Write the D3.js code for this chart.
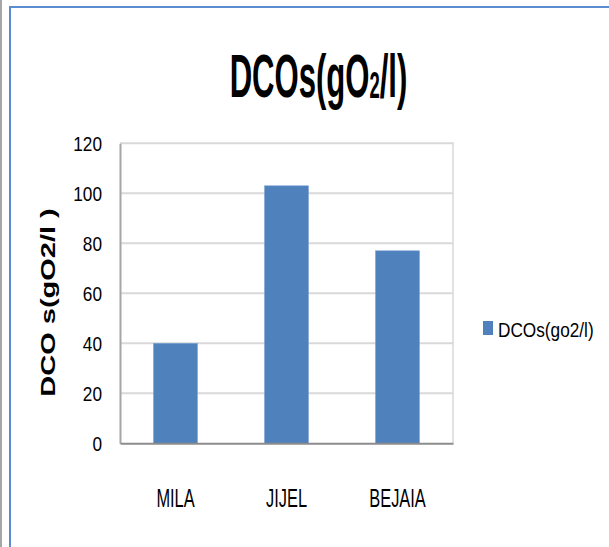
<!DOCTYPE html>
<html><head><meta charset="utf-8">
<script src="https://cdn.jsdelivr.net/npm/d3@7/dist/d3.min.js"></script>
<style>
html,body{margin:0;padding:0;background:#fff;}
svg{display:block;}
</style></head>
<body>
<svg id="chart" width="609" height="547"></svg>
<script>
const categories = ["MILA", "JIJEL", "BEJAIA"];
const values = [40, 103, 77];
const yTicks = [0, 20, 40, 60, 80, 100, 120];
const seriesName = "DCOs(go2/l)";
const yLabel = "DCO s(gO2/l )";

const sans = "'Liberation Sans', Arial, sans-serif";
const NX = 0.82; // horizontal condensing factor
const svg = d3.select("#chart");

// outer frame
svg.append("line").attr("x1",1).attr("x2",1).attr("y1",0).attr("y2",547)
  .attr("stroke","#a6a6a6").attr("stroke-width",2);
svg.append("rect").attr("x",10).attr("y",7).attr("width",620).attr("height",560)
  .attr("fill","none").attr("stroke","#5b8bd0").attr("stroke-width",2);

const L=120, R=453, T=143.3, B=443.3;
const x = d3.scaleBand().domain(categories).range([L,R]).paddingInner(0.604).paddingOuter(0.302);
const y = d3.scaleLinear().domain([0,120]).range([B,T]);

// gridlines
svg.append("g").selectAll("line").data(yTicks.filter(d=>d>0)).join("line")
  .attr("x1",L).attr("x2",R).attr("y1",d=>y(d)).attr("y2",d=>y(d))
  .attr("stroke","#d9d9d9").attr("stroke-width",2);
// right border
svg.append("line").attr("x1",R).attr("x2",R).attr("y1",T-1).attr("y2",B)
  .attr("stroke","#d9d9d9").attr("stroke-width",1.5);

// bars
svg.append("g").selectAll("rect").data(values).join("rect")
  .attr("x",(d,i)=>x(categories[i])).attr("width",x.bandwidth())
  .attr("y",d=>y(d)).attr("height",d=>B-y(d))
  .attr("fill","#4f81bd").attr("stroke","#7ea3d6").attr("stroke-width",0.6);

// y axis
const ya = svg.append("g").attr("transform",`translate(${L},0)`)
  .call(d3.axisLeft(y).tickValues(yTicks).tickSize(0));
ya.select(".domain").attr("stroke","#a6a6a6").attr("stroke-width",2);
ya.selectAll("text").attr("font-family",sans).attr("font-size",21).attr("fill","#000")
  .attr("x",-18/NX).attr("transform",`scale(${NX},1)`);

// x axis
const xa = svg.append("g").attr("transform",`translate(0,${B})`)
  .call(d3.axisBottom(x).tickSize(0));
xa.select(".domain").attr("stroke","#8c8c8c").attr("stroke-width",2);
xa.selectAll("text").attr("font-family",sans).attr("font-size",20).attr("fill","#000")
  .attr("y",48).attr("dy",0).attr("transform",`scale(${NX},1.33)`);

// title
const title = svg.append("text").attr("text-anchor","middle")
  .attr("transform","translate(318.5,96.5) scale(0.84,1.66)")
  .attr("font-family",sans).attr("font-weight","bold").attr("font-size",37).attr("fill","#000");
title.append("tspan").text("DCOs(gO");
title.append("tspan").text("2").attr("font-size",22).attr("dy",1);
title.append("tspan").text("/l)").attr("dy",-1);

// y label
svg.append("text").attr("text-anchor","middle")
  .attr("transform","translate(54.5,302.5) rotate(-90) scale(1,0.67)")
  .attr("font-family",sans).attr("font-weight","bold")
  .attr("font-size",29).attr("fill","#000").text(yLabel);

// legend
const lg = svg.append("g");
lg.append("rect").attr("x",483).attr("y",321).attr("width",10).attr("height",14).attr("fill","#4f81bd");
lg.append("text").attr("transform",`translate(498,336.5) scale(${NX},1)`)
  .attr("font-family",sans).attr("font-size",21).attr("fill","#000").text(seriesName);
</script>
</body></html>
